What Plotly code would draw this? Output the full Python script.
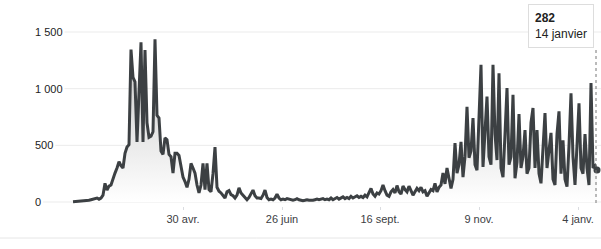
import plotly.graph_objects as go

values = [
    2, 3, 3, 5, 6, 8, 10, 12, 15, 20, 25, 30, 35, 25, 35,
    60, 165, 105, 140, 150, 210, 255, 300, 355, 320, 300, 430, 485, 505, 1345,
    1100, 1060, 530, 950, 1410, 530, 1340, 700, 570, 580, 620, 1435, 765, 740, 450,
    420, 565, 550, 420, 400, 255, 430, 430, 410, 300, 220, 180, 130, 200, 340,
    300, 255, 150, 80, 150, 340, 110, 340, 110, 90, 250, 485, 130, 95, 80,
    55, 35, 90, 100, 65, 55, 35, 60, 125, 80, 60, 40, 20, 40, 70,
    105, 55, 35, 35, 30, 60, 105, 40, 20, 25, 20, 35, 70, 35, 20,
    25, 20, 30, 25, 20, 15, 20, 30, 20, 15, 12, 15, 20, 15, 12,
    15, 20, 25, 20, 25, 30, 20, 25, 20, 35, 20, 30, 40, 25, 35,
    45, 30, 40, 30, 50, 35, 45, 55, 40, 50, 40, 60, 45, 90, 120,
    70, 50, 80, 70, 100, 150, 100, 60, 50, 90, 110, 80, 145, 90, 70,
    140, 110, 90, 140, 100, 60, 90, 120, 100, 130, 90, 100, 50, 80, 110,
    100, 165, 90, 130, 150, 255, 160, 300, 210, 120, 200, 520, 255, 330, 530,
    220, 400, 840, 390, 450, 740, 330, 280, 700, 1210, 310, 600, 930, 400, 330,
    1210, 600, 370, 1135, 300, 220, 600, 1005, 330, 400, 945, 210, 350, 775, 300,
    400, 635, 250, 300, 700, 830, 300, 635, 250, 165, 450, 785, 300, 450, 610,
    200, 150, 600, 800, 250, 545, 200, 135, 500, 960, 400, 150, 500, 870, 300,
    250, 600, 300, 150, 1050, 300, 320, 282,
]
x_idx = list(range(len(values)))

x_tick_pos = [55, 104.5, 153.5, 203, 252.5]
x_tick_labels = ["30 avr.", "26 juin", "16 sept.", "9 nov.", "4 janv."]
y_tick_vals = [0, 500, 1000, 1500]
y_tick_labels = ["0", "500", "1 000", "1 500"]
last_label = "14 janvier"

W, H = 601, 249
ML, MR, MT, MB = 33, 0, 29, 43
PW = W - ML - MR
PH = H - MT - MB
FONT = "Liberation Sans, Arial, sans-serif"
LINE = "#3c4043"

fig = go.Figure()
fig.add_trace(go.Scatter(
    x=x_idx, y=values, mode="lines",
    line=dict(color=LINE, width=3),
    fill="tozeroy",
    fillgradient=dict(type="vertical",
                      colorscale=[[0, "rgba(255,255,255,1)"], [1, "rgba(210,210,210,1)"]],
                      start=0, stop=1100),
    hoverinfo="skip",
))
fig.add_trace(go.Scatter(
    x=[x_idx[-1]], y=[values[-1]], mode="markers",
    marker=dict(color=LINE, size=7), hoverinfo="skip",
))

def label_w(s, fs=11):
    w = 0
    for ch in s:
        w += 0.278 * fs if ch == " " else 0.556 * fs
    return w

shapes = []
annotations = []
for v, lab in zip(y_tick_vals, y_tick_labels):
    x0px = ML + label_w(lab) + 4
    shapes.append(dict(type="line", xref="paper", yref="y",
                       x0=(x0px - ML) / PW, x1=1, y0=v, y1=v,
                       line=dict(color="#ebebeb", width=1), layer="below"))
    annotations.append(dict(xref="paper", yref="y", x=0, y=v,
                            xanchor="left", yanchor="middle", showarrow=False,
                            text=lab, font=dict(size=11, color="#222222", family=FONT)))
# bottom separator
sep_y = -(238 - (MT + PH)) / PH
shapes.append(dict(type="line", xref="paper", yref="paper",
                   x0=-ML / PW, x1=1, y0=sep_y, y1=sep_y,
                   line=dict(color="#e6e6e6", width=1)))
# hover dotted line
shapes.append(dict(type="line", xref="x", yref="paper",
                   x0=x_idx[-1] - 0.5, x1=x_idx[-1] - 0.5,
                   y0=(MT + PH - 203) / PH, y1=(MT + PH - 50) / PH,
                   line=dict(color="#777777", width=1, dash="dot")))

annotations.append(dict(
    xref="paper", yref="paper",
    x=(528 - ML) / PW, y=(MT + PH - 4) / PH,
    xanchor="left", yanchor="top", align="left", showarrow=False,
    text=f"<b>{values[-1]}</b><br>{last_label}",
    font=dict(size=12, color="#222222", family=FONT),
    bgcolor="white", bordercolor="#dddddd", borderwidth=1, borderpad=6,
))

y_per_px = 1500 / 170.0
zero_py = 202
y_top = (zero_py - MT) * y_per_px
y_bot = -(MT + PH - zero_py) * y_per_px

fig.update_layout(
    width=W, height=H,
    margin=dict(l=ML, r=MR, t=MT, b=MB),
    paper_bgcolor="white", plot_bgcolor="white",
    showlegend=False,
    font=dict(family=FONT, size=11, color=LINE),
    shapes=shapes,
    annotations=annotations,
    xaxis=dict(range=[-20, 264], showgrid=False, zeroline=False, showline=False,
               tickmode="array", tickvals=x_tick_pos, ticktext=x_tick_labels,
               ticks="outside", ticklen=3, tickcolor="#dadce0",
               tickfont=dict(size=11, color=LINE, family=FONT)),
    yaxis=dict(range=[y_bot, y_top], showgrid=False, zeroline=False, showline=False,
               showticklabels=False, ticks=""),
)

fig.write_html("out.html")
